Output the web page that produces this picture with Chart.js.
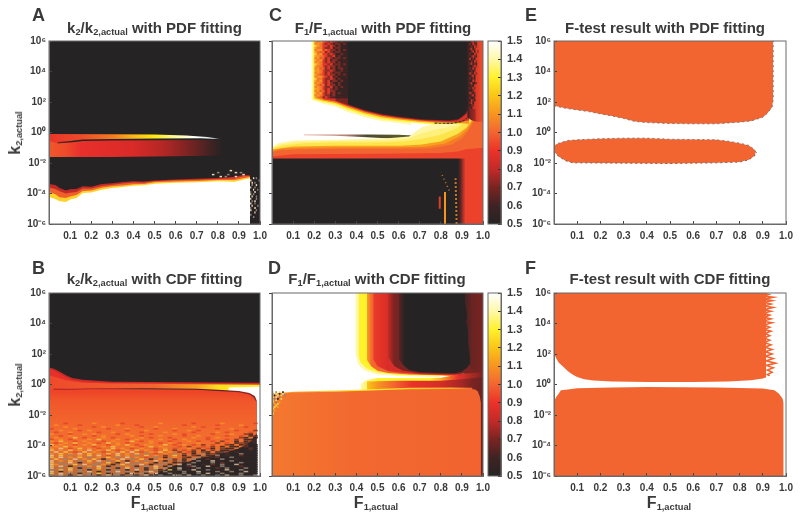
<!DOCTYPE html>
<html><head><meta charset="utf-8">
<script src="https://cdn.jsdelivr.net/npm/chart.js@4"></script>
<style>
html,body{margin:0;padding:0;background:#fff;width:800px;height:519px;overflow:hidden}
canvas,.box{position:absolute;filter:blur(.45px)}
.t{position:absolute;white-space:nowrap;font-family:"Liberation Sans",Arial,sans-serif;font-weight:bold;color:#3a3a3a;line-height:1;filter:blur(.25px)}
.t sub{font-size:.62em;vertical-align:-.22em;line-height:0}
.ttl{font-size:15px;transform:translateX(-50%)}
.let{font-size:18px}
.ax{font-size:16px;transform:translateX(-50%)}
.ax sub{font-size:.58em}
.ay{font-size:16px;transform:translate(-50%,-50%) rotate(-90deg)}
.ay sub{font-size:.58em}
</style></head><body>
<script>
/* ---- axis content ---- */
const fTicks=[.1,.2,.3,.4,.5,.6,.7,.8,.9,1];
const fLabels=['0.1','0.2','0.3','0.4','0.5','0.6','0.7','0.8','0.9','1.0'];
const kTicks=[-6,-4,-2,0,2,4,6];
const kLabels=['10⁻⁶','10⁻⁴','10⁻²','10⁰','10²','10⁴','10⁶'];
const ratioTicks=[.5,.6,.7,.8,.9,1,1.1,1.2,1.3,1.4,1.5];
const ratioLabels=['0.5','0.6','0.7','0.8','0.9','1.0','1.1','1.2','1.3','1.4','1.5'];
const ratioStops=[[.5,'#262324'],[.6,'#3f2323'],[.7,'#7a2421'],[.8,'#c22a28'],[.9,'#ec3228'],[1,'#f26531'],[1.1,'#f79421'],[1.2,'#fbc418'],[1.3,'#fff12c'],[1.4,'#fff8a8'],[1.5,'#ffffff']];

/* ---- all edges: [F1,actual , log10 k2,actual] ---- */
const full=[[0,6],[1,6]];
/* Panel A */
const aStripe=[[0,-.1],[.3,-.12],[.5,-.13],[.65,-.2],[.75,-.3],[.82,-.44]];
const aLine=[[.04,-.62],[.1,-.55],[.16,-.46],[.3,-.42],[.5,-.39],[.72,-.38],[.82,-.44]];
const aBody=[[0,-.55],[.04,-.72],[.1,-.66],[.16,-.56],[.3,-.52],[.5,-.5],[.72,-.49],[.82,-.5],[.9,-.6]];
const aCover=[[0,-1.6],[.3,-1.6],[.6,-1.55],[.85,-1.5],[1,-1.5]];
const aRed=[[0,-3.38],[.03,-3.45],[.05,-3.64],[.08,-3.8],[.1,-3.72],[.13,-3.71],[.16,-3.53],[.2,-3.56],[.25,-3.38],[.3,-3.32],[.35,-3.25],[.4,-3.2],[.45,-3.22],[.5,-3.14],[.6,-3.08],[.7,-3.03],[.8,-2.99],[.88,-2.9],[.92,-2.79],[.953,-2.81]];
const aOrange=[[0,-3.6],[.03,-3.7],[.05,-3.85],[.08,-4],[.1,-3.95],[.13,-3.9],[.16,-3.68],[.2,-3.68],[.25,-3.5],[.3,-3.42],[.35,-3.35],[.4,-3.28],[.45,-3.3],[.5,-3.2],[.6,-3.13],[.7,-3.1],[.8,-3.05],[.88,-3.02],[.92,-2.87],[.953,-2.85]];
const aYellow=[[0,-3.9],[.03,-4.05],[.05,-4.25],[.08,-4.3],[.1,-4.2],[.13,-4.1],[.16,-3.83],[.2,-3.8],[.25,-3.63],[.3,-3.53],[.35,-3.47],[.4,-3.39],[.45,-3.38],[.5,-3.27],[.6,-3.21],[.7,-3.18],[.8,-3.12],[.88,-3.12],[.92,-3],[.953,-2.92]];
const aWhite=[[0,-4.23],[.03,-4.36],[.05,-4.5],[.08,-4.55],[.1,-4.4],[.13,-4.3],[.16,-3.97],[.2,-3.93],[.25,-3.75],[.3,-3.64],[.35,-3.58],[.4,-3.49],[.45,-3.46],[.5,-3.36],[.6,-3.3],[.7,-3.27],[.8,-3.2],[.88,-3.23],[.92,-3.1],[.953,-3]];
const aRightRows=[".kp.gkk","p.k.k.g","kp.gk.k",".g.kp.k","pk.g.k.","k.pk.gk","gk.p.k.","pkg.k.k",".pk.gk.","pk.kg.k","kg.p.k.","p.kgk.k",".pkk.g.","gk.p.kk","p.k.gk.",".k.pk.k","g.k.k.k",".kg.k.k","k.k.k..",".k..k.k"];
const aTopRows=["........p.....","...g......p.g.",".p.....g.....p","....p.g...p..."];
/* Panel B */
const bDark=[[0,1.1],[.02,1.05],[.05,.85],[.08,.6],[.11,.42],[.16,.31],[.3,.18],[1,.12]];
const bRed=[[0,1],[.02,.95],[.05,.72],[.08,.5],[.11,.3],[.16,.22],[.3,.12],[1,.06]];
const bLine=[[0,.6],[.08,.28],[.16,.12],[.3,.06],[.7,.02],[1,-.01]];
const bWhite=[[.85,-.2],[1,-.15]];
const bDarkLine=[[.02,-.26],[.1,-.28],[.2,-.25],[.45,-.24],[.7,-.28],[.8,-.35],[.9,-.42],[.95,-.55],[.975,-.75],[.985,-1.05]];
const bBody=[[0,-.3],[.02,-.36],[.1,-.36],[.2,-.31],[.45,-.31],[.7,-.34],[.8,-.42],[.9,-.5],[.95,-.66],[.97,-.85],[.985,-1.2]];
const bCorner=[[.5,-5.9],[.6,-5.3],[.7,-4.9],[.8,-4.6],[.9,-4.2],[.95,-3.8],[.985,-3.2]];
const bRows=[
"...r.....a.....r.......a......r.....a......r",
".a....r.......a...r.........r......r....a...",
"...a.....r.a.......r..a.......a.r........r..",
"r....a......r...a.....r...a........r..a.....",
"..a...r.a.......r...a.....r..a.r.......r...m",
".r..a.....r..a.....r....a.....r....a.r....r.",
"a...r..a.a....r.a....r....a.r.....r...a..mk.",
"..r.a....r.a.....a.r...a....r..a.....r..r.km",
".a...y.r...a.r.....a.r...r....a..r.a....mk.k",
"r.a.r...a.y...a.r.a....a..r.a....r...r.m.kk.",
"a.y..r.a...r.a...y.r.a...r...a.r..r.m..k.km.",
".r.a.y..a.r.y.a.r....a.r.a.r...a...m.r.kmkk.",
"y.a..r.a.y..r.a.y.r.a...y.r.a.r.m.r..mk.kmkk",
".a.y.a...r.a.y...a.r.y.a...r.m..r.m.k.kk.mkk",
"a.p.r.y.a.r..y.a.r.a..r.a.r..a.m.rk.mkk.kkmk",
"y.a.y.a.p.a.y.r.a.y.a.r.y.m.r.m.k.m.kkmkkk.k",
".p.y.r.y.a.r.a.y.p.r.a.y.a.m.rk.mk.kkmk.kkkk",
"a.y.a.p.y.a.y.p.a.y.g.r.a.g.m.k.gkmkk.kkgkkk",
"p.y.g.a.y.p.r.y.a.g.y.a.m.y.k.mk.kkgk.kkmkkk",
"y.p.a.y.g.a.y.g.p.a.r.g.k.a.mk.gkk.mkkgkkkkk",
".y.g.p.a.y.k.a.p.g.y.k.a.gm.k.gkkmkkgkk.kkkk",
"p.a.y.g.y.p.g.y.k.a.g.p.k.mgk.kgkkpkkkgkkkkk",
"y.g.p.k.a.g.y.k.p.g.a.k.g.kmk.gkkkgkmkkkgkkk",
"pa.g.y.p.g.a.k.y.g.p.k.g.k.pkgkk.kmkgkkpkkkk",
"y.p.k.g.a.p.k.g.a.k.g.p.kgk.kmgkkpkkgkkkmkkk",
"p.g.y.k.g.y.g.k.p.g.k.y.gk.pkk.gkkkmkgkkkgkk",
"g.y.p.g.k.a.k.g.k.p.k.gk.ykgk.pkkgkkkpkkgkkk",
"p.k.a.g.p.k.g.p.g.k.gp.kgk.kgkkpkkkgkkgkkpkk",
"y.p.g.k.g.y.k.g.kp.gk.pkkgk.gkkgkpkkgkkkgkkk",
"g.p.k.p.g.k.p.gk.gk.pk.gkkpgkpkkgkkgkpkkgkkg"];
/* Panel C */
const cStreak=[[.15,-.13],[.3,-.13],[.45,-.13],[.6,-.15],[.7,-.22],[.81,-.4]];
const cStreakEnd=[[0,-.17],[.15,-.18],[.3,-.22],[.45,-.31],[.6,-.43],[.7,-.43],[.81,-.42],[1,-.42]];
const cPaleLow=[[0,-.96],[.03,-.7],[.1,-.52],[.3,-.48],[.55,-.37],[.65,-.26],[.68,.07],[.71,.35],[.76,.55],[.85,.8],[.93,1.3],[1,1.6]];
const cLemonLow=[[0,-1],[.04,-.78],[.12,-.6],[.3,-.56],[.55,-.5],[.65,-.38],[.7,-.1],[.76,.15],[.85,.4],[.93,.8],[1,1.4]];
const cYellowLow=[[0,-1.03],[.05,-.85],[.15,-.7],[.3,-.65],[.5,-.65],[.62,-.59],[.7,-.44],[.8,-.15],[.88,.3],[.93,.9],[1,1.2]];
const cAmberLow=[[0,-1.11],[.1,-.92],[.3,-.87],[.6,-.87],[.7,-.81],[.8,-.59],[.88,-.1],[.92,.3],[.95,.85],[1,1.2]];
const cTangerLow=[[0,-1.2],[.05,-1.05],[.15,-1],[.3,-.97],[.6,-.97],[.72,-.93],[.82,-.72],[.89,-.25],[.925,.2],[.955,.85],[1,1.25]];
const cOrangeLow=[[0,-1.31],[.03,-1.18],[.1,-1.11],[.3,-1.07],[.6,-1.07],[.75,-1.03],[.85,-.81],[.9,-.4],[.93,.1],[.96,.85],[1,1.3]];
const cRedLow=[[0,-1.57],[.1,-1.42],[.5,-1.4],[.8,-1.35],[.88,-1.24],[.92,-1.1],[1,-1]];
const cBlackLow=[[0,-1.7],[.88,-1.7],[.917,-1.72]];
const cUpPale=[[.187,2.15],[.24,1.9],[.3,1.7],[.36,1.35],[.44,1],[.52,.75],[.6,.62],[.66,.5]];
const cUpYellow=[[.195,2.2],[.24,2.02],[.3,1.83],[.36,1.5],[.44,1.14],[.52,.88],[.6,.75],[.7,.6],[.76,.55],[.84,.55],[.9,.55]];
const cUpOrange=[[.205,2.25],[.24,2.1],[.3,1.93],[.36,1.62],[.44,1.26],[.52,1],[.6,.85],[.7,.7],[.76,.65],[.84,.62],[.9,.6],[.935,.55]];
const cUpRed=[[.24,2.18],[.3,2.03],[.36,1.72],[.44,1.36],[.52,1.1],[.6,.94],[.7,.78],[.76,.72],[.84,.68],[.9,.7],[.935,.8]];
const cUpDark=[[.3,2.1],[.36,1.8],[.44,1.43],[.52,1.17],[.6,1],[.7,.84],[.76,.78],[.84,.75],[.88,.8],[.9,.98],[.92,1.22],[.935,1.6]];
const cUpBlack=[[.36,1.85],[.44,1.48],[.52,1.22],[.6,1.05],[.7,.89],[.76,.83],[.84,.8],[.88,.87],[.9,1.05],[.92,1.3],[.93,1.66],[.935,2.4],[.935,6]];
const cUpRight=[[.925,1],[.945,.8],[.97,.7],[1,.7]];
const cSpeckLine=[[.77,.61],[.85,.6],[.9,.72],[.925,.95]];
const cVert1=[[.82,-6],[.82,-3.9]];
const cVert2=[[.795,-5],[.795,-4.2]];
const cVert3=[[.875,-6],[.87,-3]];
const cVert4=[[.84,-3.8],[.8,-2.6]];
const cTopRows=["aoaormrmmkmkk","oaormrmkmmkmk","yaorrmrmkmkkk","aoormmrkmmkkk","oaarormmkmkmk","aoromrmkmmkkk","yoarrmrmkkmkk","aaoormmrkmkkk","oaromrmkmmkmk","aoarmrkmmkkkk","oaormrmmkmkkk","yaorrmrkmmkmk","aoormrmmkmkkk","oaromrkmkmmkk","aaormmrmkkmkk","oaormrmkmmkkk","aorrmrmmkmkmk","oaaormrkmkkkk","yoormmrmkmkkk","aoarmrkmmkmkk","oaormrmkkmkkk","aoromrmmkmkkk","oaormmrkmkmkk","aaormrmkmkkkk","oaromrmmkkkkk","aoarmrkmkmkkk","oaormmkmkkkkk","aormrmkkkkkkk"];
const cRightRows=["kmrkmr","mkrmkr","kmkrmr","mrkmrr","kmrkrm","mkkrmr","kmrmkr","rkmkrr","kmkrmr","mrkmkr","kkmrmr","mkrkrr","kmkmrr","rmkrmr","kmrkrr","mkmkrr","kkrmrr","mrkkmr","kmkrrr","mkrmrr","kkmrrr","rmkmrr","kmrkrr","mkkmrr","krmkrr","mrkrrr","kmmrrr","mkrrrr"];
/* Panel D */
const dMidPale=[[.42,.05],[.45,.3],[.5,.42],[.7,.42],[.8,.45],[.9,.7],[1,1]];
const dMidRed=[[.45,.2],[.6,.25],[.8,.25],[.9,.35],[1,.5]];
const dFringe=[[0,-.9],[.01,-.6],[.03,-.55],[.1,-.47],[.3,-.4],[.5,-.3],[.65,-.22],[.85,-.2],[.95,-.22]];
const dOrangeBase=[[0,-1.05],[.01,-.85],[.03,-.62],[.1,-.53],[.3,-.47],[.5,-.37],[.65,-.31],[.85,-.3],[.96,-.31],[.975,-.45],[.985,-.8],[.99,-1.2]];
const dUpPale=[[.395,2],[.41,1.3],[.44,.9],[.5,.65],[.6,.55],[.8,.48]];
const dUpYellow=[[.41,1.9],[.42,1.45],[.45,1.05],[.5,.78],[.6,.63],[.8,.58],[.86,.55]];
const dUpOrange=[[.45,1.6],[.47,1.2],[.5,.9],[.55,.75],[.65,.65],[.8,.6],[.88,.55]];
const dUpRed=[[.48,1.65],[.5,1.2],[.55,.88],[.6,.78],[.7,.68],[.8,.63],[.9,.58]];
const dUpDark=[[.55,1.8],[.58,1.2],[.62,.9],[.7,.74],[.85,.68],[.92,.72],[.96,.75],[1,.8]];
const dUpBlack=[[.6,1.7],[.62,1.3],[.65,.95],[.7,.8],[.8,.75],[.87,.74],[.9,.85],[.925,1.1],[.94,1.4],[.94,6]];
const dUpRight=[[.915,6],[.918,5.6],[.912,5.6],[.92,5],[.925,4.3],[.92,4.2],[.928,3.6],[.93,3],[.928,2.9],[.935,2.2],[.94,1.3],[.945,1.05],[.96,.9],[1,.8]];
const dLeftRows=["p.g.y.k...","g.y.k.p...",".k.p.y.g..","y.p.g.....",".g.k.y....","p.y.......","y.g.a.....",".a.y......","g.y.......",".y.a......","y.........",".a........","a.........","y........."];
/* Panel E */
const eTop=[[0,6],[.945,6]];
const eUpperEdge=[[0,1.75],[.05,1.59],[.1,1.48],[.15,1.37],[.2,1.22],[.25,1.09],[.3,.92],[.35,.72],[.4,.65],[.5,.59],[.6,.57],[.7,.57],[.8,.68],[.85,.76],[.9,1],[.92,1.27],[.94,1.66],[.945,2.2],[.945,6],[.95,6]];
const eLowTop=[[0,-.92],[.01,-.77],[.03,-.65],[.06,-.52],[.1,-.48],[.2,-.41],[.3,-.37],[.4,-.37],[.5,-.44],[.6,-.46],[.7,-.48],[.75,-.57],[.8,-.7],[.84,-.85],[.865,-1.13],[.87,-1.31]];
const eLowBottom=[[0,-1.24],[.02,-1.57],[.05,-1.85],[.08,-1.99],[.2,-2],[.5,-2.03],[.7,-1.99],[.8,-1.94],[.84,-1.79],[.865,-1.53],[.87,-1.31],[.875,-1.31]];
/* Panel F */
const fTop=[[0,6],[.915,6]];
const fUpperEdge=[[0,2.03],[.01,1.7],[.02,1.44],[.04,1.16],[.06,.87],[.08,.65],[.1,.5],[.13,.35],[.17,.26],[.25,.2],[.4,.17],[.6,.17],[.75,.2],[.85,.28],[.9,.39],[.93,.55],[1,.55]];
const fLowTop=[[0,-1.13],[.005,-.95],[.01,-.8],[.02,-.6],[.03,-.37],[.06,-.33],[.1,-.24],[.25,-.2],[.4,-.17],[.7,-.2],[.9,-.26],[.95,-.37],[.97,-.6],[.985,-.92],[.99,-1.2]];
const fTeeth=[[.9,6],[.925,5.9],[.9,5.8],[.945,5.72],[.905,5.6],[.94,5.5],[.9,5.4],[.935,5.28],[.905,5.15],[.945,5.05],[.905,4.9],[.935,4.8],[.9,4.68],[.93,4.55],[.905,4.4],[.935,4.3],[.9,4.15],[.94,4.05],[.905,3.9],[.93,3.75],[.905,3.6],[.935,3.5],[.91,3.35],[.93,3.2],[.905,3.05],[.93,2.9],[.905,2.75],[.935,2.6],[.91,2.45],[.94,2.3],[.91,2.15],[.94,2],[.91,1.85],[.945,1.7],[.915,1.55],[.955,1.4],[.915,1.25],[.945,1.1],[.92,.95],[.94,.8],[.92,.65],[.93,.55]];

/* ---- palette ---- */
const K='#262324',W='#ffffff',ORG='#f26531',EDGE='#6b6b6b',FT='#3a3a3a';
const fleck={r:'#e0352a',o:'#f26531',a:'#f9a01f',y:'#fde040',p:'#ecd9b4',g:'#8f8478',k:'#2a2526',m:'#6a2a24','.':'rgba(0,0,0,0)'};
const softFleck={r:'rgba(226,60,42,.7)',o:'rgba(240,110,50,.75)',a:'rgba(248,150,40,.7)',y:'rgba(250,205,70,.75)',p:'rgba(232,210,170,.75)',g:'rgba(150,135,120,.8)',k:'rgba(42,37,38,.85)',m:'rgba(110,45,36,.75)','.':'rgba(0,0,0,0)'};

Chart.defaults.font.family='"Liberation Sans",Arial,sans-serif';
Chart.defaults.font.weight='bold';
Chart.defaults.color=FT;

/* ---- dataset helpers: one filled polygon per edge, painted back to front ---- */
function paint(p,axis){
  if(typeof p==='string')return p;
  return c=>{
    const ch=c.chart; if(!ch.chartArea)return '#000';
    const s=ch.scales[axis],a=s.getPixelForValue(s.min),b=s.getPixelForValue(s.max);
    const g=axis==='x'?ch.ctx.createLinearGradient(a,0,b,0):ch.ctx.createLinearGradient(0,a,0,b);
    p.slice().sort((u,v)=>u[0]-v[0]).forEach(([v,col])=>g.addColorStop(Math.min(1,Math.max(0,(v-s.min)/(s.max-s.min))),col));
    return g;
  };
}
const pts=e=>e.map(([x,y])=>({x,y}));
const up=(e,p,extra)=>Object.assign({data:pts(e),fill:'start',backgroundColor:paint(p,'x'),borderWidth:0},extra||{});
const dn=(e,p,extra)=>Object.assign({data:pts(e),fill:'end',backgroundColor:paint(p,'x'),borderWidth:0},extra||{});
const upV=(e,p)=>({data:pts(e),fill:'start',backgroundColor:paint(p,'y'),borderWidth:0});
const stroke=(e,col,w,dash)=>({data:pts(e),fill:false,borderColor:col,borderWidth:w,borderDash:dash||[]});
function rowsToLines(rows,x0,dx,y0,dy,w,pal){
  const P=pal||fleck;
  return rows.map((r,i)=>{
    const y=y0-i*dy;
    const d=[];for(let j=0;j<=r.length;j++)d.push({x:x0+j*dx,y});
    return {data:d,fill:false,borderWidth:w,borderColor:'rgba(0,0,0,0)',segment:{borderColor:c=>P[r[c.p0DataIndex]]||'rgba(0,0,0,0)'}};
  });
}
const noPad=s=>{s.paddingLeft=s.paddingRight=s.paddingTop=s.paddingBottom=0;};

const framePlugin={id:'frame',afterDraw(ch){const a=ch.chartArea,c=ch.ctx;c.save();c.strokeStyle=EDGE;c.lineWidth=1;c.strokeRect(a.left,a.top,a.right-a.left,a.bottom-a.top);c.restore();}};

function panel(rect,datasets,showK,kInward){
  const [l,t,r,b]=rect,GL=42,GR=14,GT=10,GB=20;
  const cv=document.createElement('canvas');
  const w=r-l+GL+GR,h=b-t+GT+GB;
  cv.width=w;cv.height=h;cv.style.cssText=`left:${l-GL}px;top:${t-GT}px;width:${w}px;height:${h}px`;
  document.body.appendChild(cv);
  datasets.forEach((d,i)=>{d.order=-i;d.pointRadius=0;d.pointHoverRadius=0;d.tension=0;d.borderCapStyle=d.borderCapStyle||'butt';});
  new Chart(cv,{type:'line',data:{datasets},plugins:[framePlugin],options:{
    responsive:false,animation:false,devicePixelRatio:1,
    layout:{padding:{top:GT,right:GR,left:0,bottom:0}},
    plugins:{legend:{display:false},tooltip:{enabled:false},title:{display:false}},
    scales:{
      x:{type:'linear',min:0,max:1,
        afterBuildTicks:s=>{s.ticks=fTicks.map(value=>({value}));},
        afterFit:s=>{s.height=GB;noPad(s);},
        grid:{drawOnChartArea:false,tickLength:-3,tickColor:'#444',z:1},border:{color:EDGE,z:1},
        ticks:{autoSkip:false,maxRotation:0,padding:9,font:{size:10,weight:'bold'},color:FT,callback:(v,i)=>fLabels[i]}},
      y:{type:'linear',min:-6,max:6,
        afterBuildTicks:s=>{s.ticks=kTicks.map(value=>({value}));},
        afterFit:s=>{s.width=GL;noPad(s);},
        grid:{drawOnChartArea:false,tickLength:kInward?-3:3,tickColor:'#444',z:1},border:{color:EDGE,z:1},
        ticks:{display:showK,autoSkip:false,padding:kInward?6:3,font:{size:10,weight:'bold'},color:FT,callback:(v,i)=>kLabels[i]}}
    }}});
}

/* ---- painting order of each panel ---- */
const aSets=[
  up(full,K),
  up(aStripe,[[0,'#e8352a'],[.15,'#ee4a2a'],[.3,'#f47a20'],[.4,'#fbb81a'],[.5,'#fde910'],[.6,'#fff8a0'],[.7,'#ffffff'],[.78,'#dddddd'],[.82,K]]),
  up(aLine,[[.04,'#7a2421'],[.12,K],[1,K]]),
  up(aBody,[[0,'#f0572b'],[.08,'#ee4a2a'],[.15,'#e8302b'],[.4,'#d92a28'],[.55,'#b02725'],[.65,'#7f2422'],[.75,'#4a2323'],[.82,K]]),
  up(aCover,K),
  up(aRed,'#c22a28'),up(aOrange,'#f0602c'),up(aYellow,'#fdd32a'),up(aWhite,W),
  ...rowsToLines(aRightRows,.953,.0067,-3,.15,2),
  ...rowsToLines(aTopRows,.76,.012,-2.5,.13,1.5)
];
const bSets=[
  up(full,K),
  up(bDark,'#c22a28'),up(bRed,'#e8302a'),
  up(bLine,[[0,'#ee4a2a'],[.5,'#f26531'],[.7,'#f9a01f'],[.8,'#fde020'],[1,'#fff12c']]),
  up(bWhite,W),
  up(bDarkLine,[[.02,'#c22a28'],[.3,'#a32725'],[.45,'#4a2a22'],[.7,'#4a2322'],[.8,'#5a2323'],[.9,'#8a2524'],[.98,'#8a2524']]),
  upV(bBody,[[6,'#ee4528'],[-.5,'#ee4528'],[-1,'#f0552a'],[-2,'#f2602c'],[-3,'#f26a2e'],[-4,'#f0702e'],[-6,'#b86a3a']]),
  up(bCorner,'#3a2b28'),
  ...rowsToLines(bRows,0,.0225,-2.55,.1172,1.6,softFleck)
];
const cSets=[
  up(full,W),
  up(cStreak,[[.15,'#e8a8a0'],[.35,'#b88070'],[.45,'#4a4a30'],[.6,'#5a5a2a'],[.7,'#5a5a2a'],[.81,'#d8d890']]),
  up(cStreakEnd,W),
  up(cPaleLow,'#fff6a8'),up(cLemonLow,'#fef07a'),up(cYellowLow,'#fde44a'),up(cAmberLow,'#f9a01f'),up(cTangerLow,'#f57d28'),up(cOrangeLow,'#f26531'),up(cRedLow,'#ec412a'),
  up(cBlackLow,[[.88,K],[.893,'#5a2323'],[.917,'#ec412a']]),
  stroke(cVert1,'#f7941e',2),stroke(cVert2,'#d8402a',2),stroke(cVert3,'#c9762a',2,[2,2]),stroke(cVert4,'#c9762a',1.5,[1,3]),
  dn(cUpPale,'#fff8a8'),dn(cUpYellow,'#fff12c'),dn(cUpOrange,'#f79421'),dn(cUpRed,'#e0302a'),dn(cUpDark,'#7a2421'),dn(cUpBlack,K),
  dn(cUpRight,[[.93,'#3a2323'],[.94,'#7a2421'],[.96,'#a32725'],[.97,'#d9402a'],[1,'#ef4e2a']]),
  stroke(cSpeckLine,'#4a3a2a',1.2,[3,1]),
  ...rowsToLines(cTopRows,.2,.0125,5.95,.135,2.1,softFleck),
  ...rowsToLines(cRightRows,.935,.0075,5.95,.16,2.4,softFleck)
];
const dSets=[
  up(full,W),
  up(dMidPale,[[.42,'#fff8a8'],[.5,'#fff12c'],[.75,'#fff12c'],[.82,'#f79421'],[.88,'#e9342a'],[1,'#7a2421']]),
  up(dMidRed,[[.45,'#fbc418'],[.5,'#f79421'],[.58,'#f2652f'],[.66,'#e9342a'],[.8,'#d42d28'],[.9,'#a32725'],[.95,'#7a2421'],[1,'#6a2422']]),
  up(dFringe,[[0,'#f79421'],[.3,'#fbd040'],[.45,'#fff12c'],[.85,'#f9b020'],[.95,'#f26531']]),
  up(dOrangeBase,[[0,'#f4782f'],[.4,'#f2682f'],[1,'#f2632f']]),
  dn(dUpPale,'#fff8a8'),dn(dUpYellow,'#fff12c'),
  dn(dUpOrange,[[.45,'#f9a01f'],[.475,'#f26531']]),
  dn(dUpRed,[[.48,'#ec3a28'],[.55,'#d82d28']]),
  dn(dUpDark,[[.55,'#c22a28'],[.58,'#7a2421'],[.7,'#7a2421'],[1,'#7a2421']]),
  dn(dUpBlack,[[.6,'#5a2323'],[.63,K]]),
  dn(dUpRight,[[.92,'#4a2323'],[.95,'#6a2422'],[1,'#7a2421']]),
  ...rowsToLines(dLeftRows,0,.008,-.5,.11,1.8)
];
const eSets=[
  up(eTop,ORG),
  up(eUpperEdge,W,{borderWidth:1,borderColor:'#777',borderDash:[2,3]}),
  up(eLowTop,ORG,{borderWidth:1,borderColor:'#777',borderDash:[2,3]}),
  up(eLowBottom,W,{borderWidth:1,borderColor:'#666',borderDash:[2,3]})
];
const fSets=[
  up(fTop,ORG),
  stroke(fTeeth,ORG,1.6),
  up(fUpperEdge,W),
  up(fLowTop,ORG)
];

const R=[49,260],C=[272,483],E=[554,786],T=[41,224],B=[293,476];
panel([R[0],T[0],R[1],T[1]],aSets,true,true);
panel([C[0],T[0],C[1],T[1]],cSets,false,false);
panel([E[0],T[0],E[1],T[1]],eSets,true,true);
panel([R[0],B[0],R[1],B[1]],bSets,true,true);
panel([C[0],B[0],C[1],B[1]],dSets,false,false);
panel([E[0],B[0],E[1],B[1]],fSets,true,true);

/* ---- colour bars ---- */
function colorbar(top,bottom){
  const GT=10,GB=6,l=488,r=501,GR=30,GL=4;
  const cv=document.createElement('canvas');
  const w=r-l+GL+GR,h=bottom-top+GT+GB;
  cv.width=w;cv.height=h;cv.style.cssText=`left:${l-GL}px;top:${top-GT}px;width:${w}px;height:${h}px`;
  document.body.appendChild(cv);
  new Chart(cv,{type:'bar',data:{labels:['ratio'],datasets:[{data:[[ratioTicks[0],ratioTicks[10]]],barPercentage:1,categoryPercentage:1,
      backgroundColor:paint(ratioStops,'y'),borderWidth:0}]},plugins:[framePlugin],options:{
    responsive:false,animation:false,devicePixelRatio:1,
    layout:{padding:{top:GT,bottom:GB,left:GL,right:0}},
    plugins:{legend:{display:false},tooltip:{enabled:false}},
    scales:{
      x:{display:false},
      y:{position:'right',min:.5,max:1.5,
        afterBuildTicks:s=>{s.ticks=ratioTicks.map(value=>({value}));},
        afterFit:s=>{s.width=GR;noPad(s);},
        grid:{drawOnChartArea:false,tickLength:-3,tickColor:'#333',z:1},border:{color:EDGE,z:1},
        ticks:{autoSkip:false,padding:9,font:{size:11,weight:'bold'},color:FT,callback:(v,i)=>ratioLabels[i]}}
    }}});
}
colorbar(T[0],T[1]);colorbar(B[0],B[1]);

/* ---- text ---- */
function txt(cls,html,x,y){const d=document.createElement('div');d.className='t '+cls;d.innerHTML=html;d.style.left=x+'px';d.style.top=y+'px';document.body.appendChild(d);}
txt('let','A',32,6);txt('let','C',269,6);txt('let','E',525,6);
txt('let','B',32,259);txt('let','D',268,259);txt('let','F',525,259);
txt('ttl','k<sub>2</sub>/k<sub>2,actual</sub> with PDF fitting',154.5,20);
txt('ttl','F<sub>1</sub>/F<sub>1,actual</sub> with PDF fitting',383,20);
txt('ttl','F-test result with PDF fitting',665,20);
txt('ttl','k<sub>2</sub>/k<sub>2,actual</sub> with CDF fitting',154.5,271);
txt('ttl','F<sub>1</sub>/F<sub>1,actual</sub> with CDF fitting',377,271);
txt('ttl','F-test result with CDF fitting',670,271);
txt('ax','F<sub>1,actual</sub>',153,495);txt('ax','F<sub>1,actual</sub>',376,495);txt('ax','F<sub>1,actual</sub>',669,495);
txt('ay','k<sub>2,actual</sub>',15,133);txt('ay','k<sub>2,actual</sub>',15,385);
</script>
</body></html>
